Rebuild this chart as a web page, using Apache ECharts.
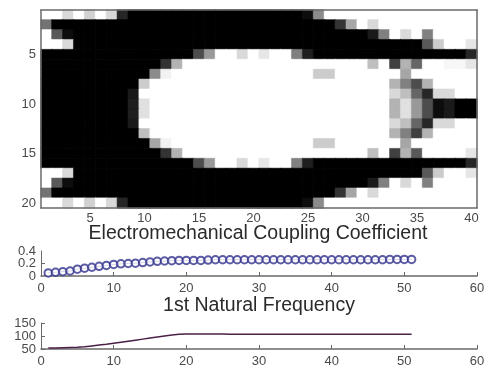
<!DOCTYPE html>
<html>
<head>
<meta charset="utf-8">
<script src="https://cdn.jsdelivr.net/npm/echarts@6/dist/echarts.min.js"></script>
<style>
  html, body { margin: 0; padding: 0; background: #fff; }
  /* the source picture is a soft, low quality capture */
  #chart { width: 497px; height: 370px; filter: blur(0.6px); }
</style>
</head>
<body>
<div id="chart"></div>
<script>
// density map, one row per y index, 0 = black and 100 = white
const row1 = [100,100,85,100,82,100,85,15,0,0,0,0,0,0,0,0,0,0,0,0,0,0,0,0,5,55,100,100,100,100,100,100,100,100,100,100,100,100,100,100];
const row2 = [45,0,0,0,0,0,0,0,0,0,0,0,0,0,0,0,0,0,0,0,0,0,0,0,0,0,0,20,65,100,85,100,100,100,100,100,100,100,100,100];
const row3 = [100,35,5,0,0,0,0,0,0,0,0,0,0,0,0,0,0,0,0,0,0,0,0,0,0,0,0,0,0,0,10,50,100,85,100,50,100,100,100,100];
const row4 = [100,100,85,0,0,0,0,0,0,0,0,0,0,0,0,0,0,0,0,0,0,0,0,0,0,0,0,0,0,0,0,0,0,0,0,35,80,100,100,90];
const row5 = [0,0,0,0,0,0,0,0,0,0,0,0,0,0,30,60,100,100,85,100,90,100,100,50,12,0,0,0,0,0,0,0,0,0,0,0,0,0,0,15];
const row6 = [0,0,0,0,0,0,0,0,0,0,0,20,70,100,100,100,100,100,100,100,100,100,100,100,100,100,100,100,100,100,75,100,25,70,40,100,100,97,97,90];
const row7 = [0,0,0,0,0,0,0,0,0,0,55,95,100,100,100,100,100,100,100,100,100,100,100,100,100,80,80,100,100,100,100,100,100,65,100,100,100,100,100,100];
const row8 = [0,0,0,0,0,0,0,0,0,80,100,100,100,100,100,100,100,100,100,100,100,100,100,100,100,100,100,100,100,100,100,100,70,50,30,70,100,100,100,100];
const row9 = [0,0,0,0,0,0,0,0,10,100,100,100,100,100,100,100,100,100,100,100,100,100,100,100,100,100,100,100,100,100,100,100,85,75,40,15,85,85,100,100];
const row10 = [0,0,0,0,0,0,0,0,12,88,100,100,100,100,100,100,100,100,100,100,100,100,100,100,100,100,100,100,100,100,100,100,70,88,60,30,5,10,0,0];
const row11 = [0,0,0,0,0,0,0,0,12,88,100,100,100,100,100,100,100,100,100,100,100,100,100,100,100,100,100,100,100,100,100,100,70,88,60,30,5,10,0,0];
const row12 = [0,0,0,0,0,0,0,0,10,100,100,100,100,100,100,100,100,100,100,100,100,100,100,100,100,100,100,100,100,100,100,100,85,75,40,15,85,85,100,100];
const row13 = [0,0,0,0,0,0,0,0,0,75,100,100,100,100,100,100,100,100,100,100,100,100,100,100,100,100,100,100,100,100,100,100,70,50,25,70,100,100,100,100];
const row14 = [0,0,0,0,0,0,0,0,0,0,65,95,100,100,100,100,100,100,100,100,100,100,100,100,100,80,80,100,100,100,100,100,100,65,100,100,100,100,100,100];
const row15 = [0,0,0,0,0,0,0,0,0,0,0,20,70,100,100,100,100,100,100,100,100,100,100,100,100,100,100,100,100,100,75,100,25,70,35,100,100,100,100,90];
const row16 = [0,0,0,0,0,0,0,0,0,0,0,0,0,0,30,60,100,100,85,100,90,100,100,50,12,0,0,0,0,0,0,0,0,0,0,0,0,0,0,15];
const row17 = [100,100,85,0,0,0,0,0,0,0,0,0,0,0,0,0,0,0,0,0,0,0,0,0,0,0,0,0,0,0,0,0,0,0,0,35,80,100,100,90];
const row18 = [100,35,5,0,0,0,0,0,0,0,0,0,0,0,0,0,0,0,0,0,0,0,0,0,0,0,0,0,0,0,10,50,100,85,100,50,100,100,100,100];
const row19 = [45,0,0,0,0,0,0,0,0,0,0,0,0,0,0,0,0,0,0,0,0,0,0,0,0,0,0,20,65,100,85,100,100,100,100,100,100,100,100,100];
const row20 = [100,100,85,100,82,100,85,15,0,0,0,0,0,0,0,0,0,0,0,0,0,0,0,0,5,55,100,100,100,100,100,100,100,100,100,100,100,100,100,100];
const rows = [row1,row2,row3,row4,row5,row6,row7,row8,row9,row10,row11,row12,row13,row14,row15,row16,row17,row18,row19,row20];

const colLabels = ["1","2","3","4","5","6","7","8","9","10","11","12","13","14","15","16","17","18","19","20","21","22","23","24","25","26","27","28","29","30","31","32","33","34","35","36","37","38","39","40"];
const rowLabels = ["1","2","3","4","5","6","7","8","9","10","11","12","13","14","15","16","17","18","19","20"];

// one value per iteration, 1 to 51
const iterations = [1,2,3,4,5,6,7,8,9,10,11,12,13,14,15,16,17,18,19,20,21,22,23,24,25,26,27,28,29,30,31,32,33,34,35,36,37,38,39,40,41,42,43,44,45,46,47,48,49,50,51];
const coupling = [0.05,0.06,0.07,0.08,0.11,0.125,0.14,0.155,0.17,0.185,0.195,0.2,0.205,0.215,0.225,0.235,0.24,0.245,0.25,0.25,0.25,0.25,0.255,0.26,0.26,0.26,0.26,0.26,0.26,0.26,0.26,0.26,0.26,0.26,0.26,0.26,0.26,0.26,0.26,0.26,0.26,0.26,0.26,0.26,0.26,0.26,0.26,0.265,0.265,0.265,0.265];
const frequency = [54,54,55,56,57,59,62,65,68,72,76,80,84,88,92,96,100,104,107,108,108,108,108,108,108,107,107,107,107,107,107,107,107,107,107,107,107,107,107,107,107,107,107,107,107,107,107,107,107,107,107];

// gray level of a cell, border in the same gray so no seams show between cells
const grayOf = (v) => {
  const g = Math.round((v / 100) * 255);
  return "rgb(" + g + "," + g + "," + g + ")";
};
const heatData = [];
rows.forEach((r, y) =>
  r.forEach((v, x) =>
    heatData.push({
      value: [x, y, v],
      itemStyle: { color: grayOf(v), borderColor: grayOf(v), borderWidth: 0.5 },
    })
  )
);

const axisColor = "#6a6a6a";
const textColor = "#4a4a4a";
const titleFont = { color: "#2a2a2a", fontSize: 19.5, fontWeight: "normal", fontFamily: "Liberation Sans" };
const labelFont = { color: textColor, fontSize: 13, lineHeight: 10, fontFamily: "Liberation Sans" };
const everyFifth = (i, v) => Number(v) % 5 === 0;
const couplingLabel = (v) => (v === 0 ? "0" : v.toFixed(1));

const lineXAxis = (gridIndex) => ({
  gridIndex,
  type: "value",
  min: 0,
  max: 60,
  interval: 10,
  axisLine: { lineStyle: { color: axisColor, width: 1.5 } },
  axisTick: { inside: true, length: 4, lineStyle: { color: axisColor } },
  axisLabel: { ...labelFont, margin: 7 },
  splitLine: { show: false },
});

const chart = echarts.init(document.getElementById("chart"));
chart.setOption({
  animation: false,
  backgroundColor: "#fff",
  title: [
    { text: "Electromechanical Coupling Coefficient", left: 253, top: 219, textAlign: "center", textStyle: titleFont },
    { text: "1st Natural Frequency", left: 254, top: 291, textAlign: "center", textStyle: titleFont },
  ],
  grid: [
    { left: 41, top: 10, width: 436, height: 198 },
    { left: 41, top: 251, width: 436, height: 25 },
    { left: 41, top: 323, width: 436, height: 26 },
  ],
  xAxis: [
    {
      gridIndex: 0, type: "category", data: colLabels, z: 5,
      axisLine: { lineStyle: { color: axisColor, width: 1.5 } },
      axisTick: { inside: true, length: 3, alignWithLabel: true, interval: everyFifth, lineStyle: { color: axisColor } },
      axisLabel: { ...labelFont, interval: everyFifth, margin: 5 },
      splitLine: { show: false },
    },
    {
      gridIndex: 0, type: "category", data: colLabels, position: "top", z: 5,
      axisLine: { lineStyle: { color: axisColor, width: 1.5 } },
      axisTick: { inside: true, length: 3, alignWithLabel: true, interval: everyFifth, lineStyle: { color: axisColor } },
      axisLabel: { show: false },
      splitLine: { show: false },
    },
    lineXAxis(1),
    lineXAxis(2),
  ],
  yAxis: [
    {
      gridIndex: 0, type: "category", data: rowLabels, inverse: true, z: 5,
      axisLine: { lineStyle: { color: axisColor, width: 1.5 } },
      axisTick: { inside: true, length: 3, alignWithLabel: true, interval: everyFifth, lineStyle: { color: axisColor } },
      axisLabel: { ...labelFont, interval: everyFifth, margin: 5 },
      splitLine: { show: false },
    },
    {
      gridIndex: 0, type: "category", data: rowLabels, inverse: true, position: "right", z: 5,
      axisLine: { lineStyle: { color: axisColor, width: 1.5 } },
      axisTick: { inside: true, length: 3, alignWithLabel: true, interval: everyFifth, lineStyle: { color: axisColor } },
      axisLabel: { show: false },
      splitLine: { show: false },
    },
    {
      // labels this close get dropped, so this axis only labels 0.2
      gridIndex: 1, type: "value", min: 0, max: 0.4, interval: 0.2,
      axisLine: { show: true, lineStyle: { color: axisColor } },
      axisTick: { show: true, inside: true, length: 4, lineStyle: { color: axisColor } },
      axisLabel: { ...labelFont, margin: 5, showMinLabel: false, showMaxLabel: false, formatter: couplingLabel },
      splitLine: { show: false },
    },
    {
      gridIndex: 2, type: "value", min: 50, max: 150, interval: 50,
      axisLine: { show: true, lineStyle: { color: axisColor } },
      axisTick: { show: true, inside: true, length: 4, lineStyle: { color: axisColor } },
      axisLabel: { ...labelFont, margin: 5, showMinLabel: true, showMaxLabel: true, hideOverlap: false },
      splitLine: { show: false },
    },
    {
      // second axis on the coupling plot, labels 0 and 0.4
      gridIndex: 1, type: "value", position: "left", min: 0, max: 0.4, interval: 0.4,
      axisLine: { show: false },
      axisTick: { show: false },
      axisLabel: { ...labelFont, margin: 5, showMinLabel: true, showMaxLabel: true, formatter: couplingLabel },
      splitLine: { show: false },
    },
  ],
  series: [
    {
      type: "heatmap",
      xAxisIndex: 0,
      yAxisIndex: 0,
      data: heatData,
      progressive: 0,
      emphasis: { disabled: true },
    },
    {
      type: "line",
      xAxisIndex: 2,
      yAxisIndex: 2,
      data: iterations.map((x, i) => [x, coupling[i]]),
      symbol: "emptyCircle",
      symbolSize: 7.5,
      showAllSymbol: true,
      lineStyle: { color: "#24248a", width: 1 },
      itemStyle: { color: "#33338f", borderWidth: 1, opacity: 0.8 },
    },
    {
      type: "line",
      xAxisIndex: 3,
      yAxisIndex: 3,
      data: iterations.map((x, i) => [x, frequency[i]]),
      symbol: "none",
      lineStyle: { color: "#4a2048", width: 1.5 },
    },
  ],
});
</script>
</body>
</html>
